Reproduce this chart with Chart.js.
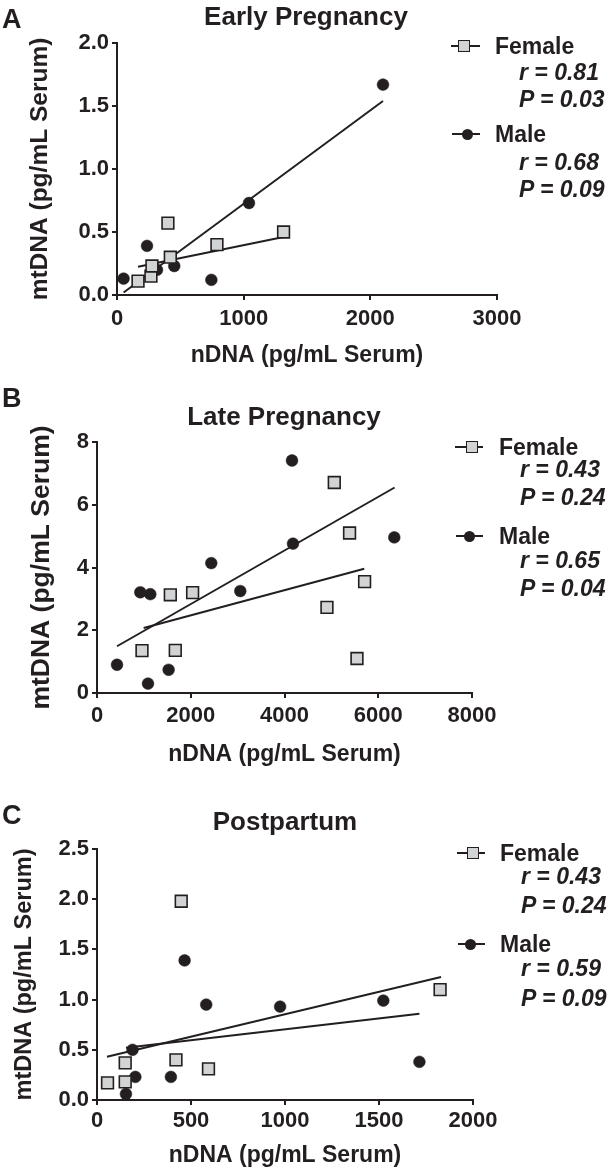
<!DOCTYPE html>
<html>
<head>
<meta charset="utf-8">
<script src="https://cdn.jsdelivr.net/npm/chart.js@4.4.1/dist/chart.umd.min.js"></script>
<style>
  body { margin: 0; background: #fff; }
  #page { position: relative; width: 608px; height: 1173px; overflow: hidden; font-family: "Liberation Sans", Arial, sans-serif; color: #231f20; }
  canvas { position: absolute; left: 0; }
  .txt { position: absolute; font-weight: bold; line-height: 1; white-space: nowrap; transform: translateY(-50%); }
  .ctr { transform: translate(-50%, -50%); }
  .it { font-style: italic; }
  .mk-line { position: absolute; height: 2px; background: #231f20; }
  .mk-sq { position: absolute; width: 10px; height: 10px; background: #d1d3d4; border: 1.5px solid #231f20; }
  .mk-ci { position: absolute; width: 11px; height: 11px; border-radius: 50%; background: #231f20; }
</style>
</head>
<body>
<div id="page">
  <canvas id="chartA" width="608" height="375" style="top:0px"></canvas>
  <canvas id="chartB" width="608" height="400" style="top:375px"></canvas>
  <canvas id="chartC" width="608" height="398" style="top:775px"></canvas>
</div>
<script>
// ---- Early pregnancy (A)
var femaleA_x = [166, 268, 276, 402, 421, 789, 1315];
var femaleA_y = [0.11, 0.15, 0.23, 0.57, 0.30, 0.40, 0.50];
var maleA_x = [52, 237, 316, 452, 745, 1042, 2100];
var maleA_y = [0.13, 0.39, 0.20, 0.23, 0.12, 0.73, 1.67];
var femaleA_fit_x = [166, 1315];
var femaleA_fit_y = [0.225, 0.46];
var maleA_fit_x = [52, 2100];
var maleA_fit_y = [0.02, 1.54];
var statsA = ["r = 0.81", "P = 0.03", "r = 0.68", "P = 0.09"];

// ---- Late pregnancy (B)
var femaleB_x = [960, 1670, 1564, 2040, 4906, 5062, 5388, 5546, 5709];
var femaleB_y = [1.35, 1.36, 3.13, 3.20, 2.73, 6.71, 5.10, 1.10, 3.55];
var maleB_x = [427, 924, 1137, 1088, 1528, 2438, 3057, 4160, 4181, 6342];
var maleB_y = [0.90, 3.21, 3.15, 0.30, 0.74, 4.14, 3.25, 7.41, 4.76, 4.96];
var femaleB_fit_x = [995, 5702];
var femaleB_fit_y = [2.07, 3.96];
var maleB_fit_x = [427, 6349];
var maleB_fit_y = [1.49, 6.55];
var statsB = ["r = 0.43", "P = 0.24", "r = 0.65", "P = 0.04"];

// ---- Postpartum (C)
var femaleC_x = [56, 150, 150, 420, 448, 593, 1825];
var femaleC_y = [0.17, 0.37, 0.18, 0.40, 1.98, 0.31, 1.10];
var maleC_x = [154, 189, 204, 393, 466, 581, 974, 1523, 1715];
var maleC_y = [0.06, 0.50, 0.23, 0.23, 1.39, 0.95, 0.93, 0.99, 0.38];
var femaleC_fit_x = [53, 1830];
var femaleC_fit_y = [0.43, 1.225];
var maleC_fit_x = [154, 1715];
var maleC_fit_y = [0.52, 0.86];
var statsC = ["r = 0.43", "P = 0.24", "r = 0.59", "P = 0.09"];

var xTitle = "nDNA (pg/mL Serum)";
var yTitle = "mtDNA (pg/mL Serum)";
var ink = "#231f20";
var fontFam = "'Liberation Sans', Arial, sans-serif";

function pares(xs, ys) {
  var out = [];
  for (var i = 0; i < xs.length; i++) {
    out.push({x: xs[i], y: ys[i]});
  }
  return out;
}

// p: sizes of the panel (plot box in canvas pixels etc)
function criaPainel(id, p) {
  return new Chart(document.getElementById(id), {
    type: 'scatter',
    data: {
      datasets: [
        { label: 'Female', data: pares(p.fx, p.fy), pointStyle: 'rect', pointRadius: 8.3,
          backgroundColor: '#d1d3d4', borderColor: ink, borderWidth: 1.6, clip: false },
        { label: 'Male', data: pares(p.mx, p.my), pointStyle: 'circle', pointRadius: 5.9,
          backgroundColor: ink, borderColor: ink, borderWidth: 0.5, clip: false },
        { type: 'line', data: pares(p.ffx, p.ffy), showLine: true, pointRadius: 0,
          borderColor: ink, borderWidth: 2, fill: false, clip: false },
        { type: 'line', data: pares(p.mfx, p.mfy), showLine: true, pointRadius: 0,
          borderColor: ink, borderWidth: 2, fill: false, clip: false }
      ]
    },
    options: {
      responsive: false,
      animation: false,
      events: [],
      layout: { padding: { left: 0, right: 608 - p.right, top: p.top, bottom: 0 } },
      plugins: { legend: { display: false }, title: { display: false }, tooltip: { enabled: false } },
      scales: {
        x: {
          type: 'linear', min: 0, max: p.xmax,
          afterFit: function(s) { s.height = p.h - p.bottom; },
          ticks: { stepSize: p.xstep, color: ink, padding: p.xpad, maxRotation: 0,
                   callback: function(v) { return String(v); },
                   font: { family: fontFam, size: 22, weight: 'bold' } },
          grid: { drawOnChartArea: false, drawTicks: true, tickLength: 5, color: ink, lineWidth: 2 },
          border: { display: true, color: ink, width: 2 },
          title: { display: true, text: xTitle, color: ink, padding: { top: 0, bottom: p.xtpad },
                   font: { family: fontFam, size: 23, weight: 'bold' } }
        },
        y: {
          type: 'linear', min: 0, max: p.ymax,
          afterFit: function(s) { s.width = p.left; },
          ticks: { stepSize: p.ystep, color: ink, padding: 3,
                   callback: function(v) { return p.ydec ? v.toFixed(1) : String(v); },
                   font: { family: fontFam, size: 22, weight: 'bold' } },
          grid: { drawOnChartArea: false, drawTicks: true, tickLength: 5, color: ink, lineWidth: 2 },
          border: { display: true, color: ink, width: 2 },
          title: { display: true, text: yTitle, color: ink, padding: { top: p.ytpad, bottom: 0 },
                   font: { family: fontFam, size: p.ytsize, weight: 'bold' } }
        }
      }
    }
  });
}

criaPainel('chartA', {
  fx: femaleA_x, fy: femaleA_y, mx: maleA_x, my: maleA_y,
  ffx: femaleA_fit_x, ffy: femaleA_fit_y, mfx: maleA_fit_x, mfy: maleA_fit_y,
  h: 375, left: 117, right: 497, top: 43, bottom: 295,
  xmax: 3000, xstep: 1000, ymax: 2, ystep: 0.5, ydec: true,
  xpad: 6, xtpad: 5.5, ytpad: 26, ytsize: 24.5
});
criaPainel('chartB', {
  fx: femaleB_x, fy: femaleB_y, mx: maleB_x, my: maleB_y,
  ffx: femaleB_fit_x, ffy: femaleB_fit_y, mfx: maleB_fit_x, mfy: maleB_fit_y,
  h: 400, left: 97, right: 472, top: 67, bottom: 318,
  xmax: 8000, xstep: 2000, ymax: 8, ystep: 2, ydec: false,
  xpad: 4.5, xtpad: 7, ytpad: 26, ytsize: 26.5
});
criaPainel('chartC', {
  fx: femaleC_x, fy: femaleC_y, mx: maleC_x, my: maleC_y,
  ffx: femaleC_fit_x, ffy: femaleC_fit_y, mfx: maleC_fit_x, mfy: maleC_fit_y,
  h: 398, left: 97, right: 473, top: 74, bottom: 325,
  xmax: 2000, xstep: 500, ymax: 2.5, ystep: 0.5, ydec: true,
  xpad: 3, xtpad: 3.5, ytpad: 10, ytsize: 23.5
});

// ---- text outside the plots: letters, titles, legends
var page = document.getElementById('page');

function texto(s, x, y, size, cls) {
  var d = document.createElement('div');
  d.className = 'txt ' + (cls || '');
  d.textContent = s;
  d.style.left = x + 'px';
  d.style.top = y + 'px';
  d.style.fontSize = size + 'px';
  page.appendChild(d);
}

function marcador(tipo, x1, x2, cx, cy) {
  var l = document.createElement('div');
  l.className = 'mk-line';
  l.style.left = x1 + 'px';
  l.style.width = (x2 - x1) + 'px';
  l.style.top = (cy - 1) + 'px';
  page.appendChild(l);
  var m = document.createElement('div');
  if (tipo == 'sq') {
    m.className = 'mk-sq';
    m.style.left = (cx - 6.5) + 'px';
    m.style.top = (cy - 6.5) + 'px';
  } else {
    m.className = 'mk-ci';
    m.style.left = (cx - 5.5) + 'px';
    m.style.top = (cy - 5.5) + 'px';
  }
  page.appendChild(m);
}

// g: legend y positions [female, r, P, male, r, P]
function legenda(stats, xt, xs, g, mk) {
  marcador('sq', mk[0], mk[1], mk[2], g[0]);
  texto('Female', xt, g[0], 23);
  texto(stats[0], xs, g[1], 23, 'it');
  texto(stats[1], xs, g[2], 23, 'it');
  marcador('ci', mk[0] + 1, mk[1], mk[3], g[3]);
  texto('Male', xt, g[3], 23);
  texto(stats[2], xs, g[4], 23, 'it');
  texto(stats[3], xs, g[5], 23, 'it');
}

texto('A', 2, 19, 27);
texto('B', 2, 398, 27);
texto('C', 2, 815, 27);

texto('Early Pregnancy', 306, 15.5, 26, 'ctr');
texto('Late Pregnancy', 284, 416, 26, 'ctr');
texto('Postpartum', 285, 821, 26, 'ctr');

legenda(statsA, 495, 519, [46, 72, 99, 134, 162, 189], [451, 480, 464, 467]);
legenda(statsB, 499, 520, [447, 469, 497, 536, 560, 588], [455, 483, 472, 469]);
legenda(statsC, 500, 521, [853, 875.5, 905, 944, 967.5, 997.5], [457, 485, 473, 470]);
</script>
</body>
</html>
